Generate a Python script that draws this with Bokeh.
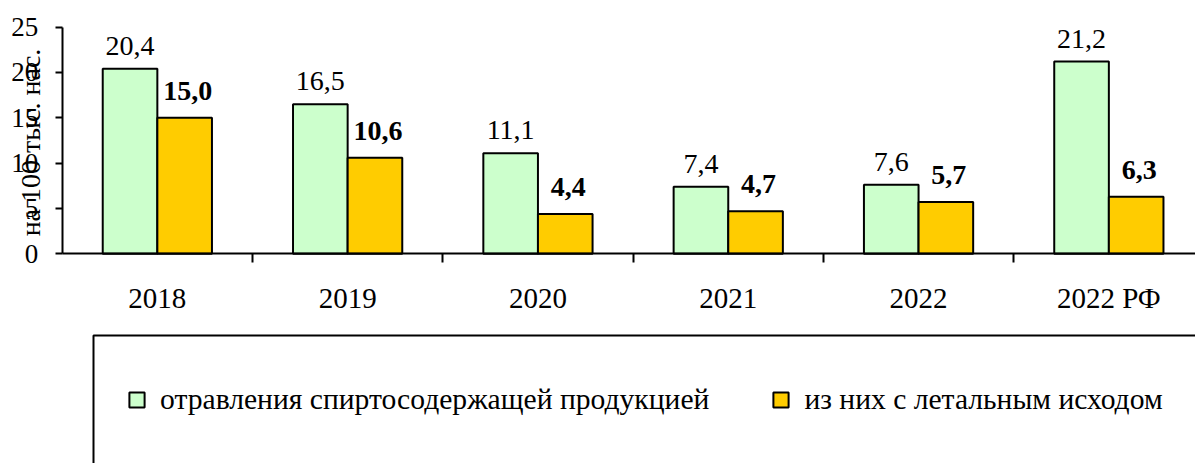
import math
from bokeh.plotting import figure
from bokeh.models import (Range1d, FixedTicker, Legend, LegendItem, Label,
                          ColumnDataSource, BoxAnnotation)
from bokeh.core.properties import value
from bokeh.transform import dodge
from bokeh.embed import file_html
from bokeh.resources import INLINE

# ---- data ----
categories = ["2018", "2019", "2020", "2021", "2022", "2022 РФ"]
poisonings = [20.4, 16.5, 11.1, 7.4, 7.6, 21.2]   # отравления спиртосодержащей продукцией
fatal = [15.0, 10.6, 4.4, 4.7, 5.7, 6.3]          # из них с летальным исходом
y_ticks = [0, 5, 10, 15, 20, 25]
series_names = ["отравления спиртосодержащей продукцией", "из них с летальным исходом"]
y_title = "на 100 тыс. нас."

FONT = "Liberation Serif"
GREEN = "#CCFFCC"
GOLD = "#FFCC00"

def fmt(v):
    return f"{v:.1f}".replace(".", ",")

centers = [i + 0.5 for i in range(len(categories))]
src = ColumnDataSource(dict(
    x=centers,
    g=poisonings,
    o=fatal,
    gl=[fmt(v) for v in poisonings],
    ol=[fmt(v) for v in fatal],
))

W, H = 1195, 463
# the frame fills the whole canvas; axes are drawn at data 0 inside it
X0, XEND = -0.3242, 5.9553
Y0, YEND = -23.125, 27.93

p = figure(width=W, height=H, output_backend="svg", toolbar_location=None,
           x_range=Range1d(X0, XEND), y_range=Range1d(Y0, YEND),
           min_border=0, min_border_left=0, min_border_right=0,
           min_border_top=0, min_border_bottom=0)
p.outline_line_color = None
p.xgrid.visible = False
p.ygrid.visible = False
p.background_fill_color = "white"
p.border_fill_color = "white"

BW = 0.287
r1 = p.vbar(x=dodge("x", -BW / 2), top="g", width=BW, source=src,
            fill_color=GREEN, line_color="black", line_width=2)
r2 = p.vbar(x=dodge("x", BW / 2), top="o", width=BW, source=src,
            fill_color=GOLD, line_color="black", line_width=2)

p.text(x=dodge("x", -BW / 2), y="g", text="gl", source=src,
       text_align="center", text_baseline="alphabetic", y_offset=-23,
       text_font=value(FONT), text_font_size="28px", text_color="black")
p.text(x=dodge("x", BW / 2), y="o", text="ol", source=src,
       text_align="center", text_baseline="alphabetic", y_offset=-27, x_offset=3,
       text_font=value(FONT), text_font_size="28px", text_font_style="bold",
       text_color="black")

# x axis: category labels at centres, tick marks between categories
xa = p.xaxis[0]
xa.fixed_location = 0
xa.bounds = (0, XEND)
xa.ticker = FixedTicker(ticks=centers, minor_ticks=list(range(1, len(categories))))
xa.major_label_overrides = {c: lab for c, lab in zip(centers, categories)}
xa.major_tick_line_color = None
xa.major_tick_out = 0
xa.major_tick_in = 0
xa.minor_tick_line_color = "black"
xa.minor_tick_line_width = 2
xa.minor_tick_out = 9
xa.minor_tick_in = 0
xa.axis_line_color = "black"
xa.axis_line_width = 2
xa.major_label_text_font = FONT
xa.major_label_text_font_size = "29px"
xa.major_label_text_color = "black"
xa.major_label_standoff = 19

ya = p.yaxis[0]
ya.fixed_location = 0
ya.bounds = (0, 25)
ya.ticker = FixedTicker(ticks=y_ticks, minor_ticks=[])
ya.minor_tick_line_color = None
ya.major_tick_out = 7
ya.major_tick_in = 0
ya.major_tick_line_color = "black"
ya.major_tick_line_width = 2
ya.axis_line_color = "black"
ya.axis_line_width = 2
ya.major_label_text_font = FONT
ya.major_label_text_font_size = "27px"
ya.major_label_text_color = "black"
ya.major_label_standoff = 17

p.add_layout(Label(x=30, y=H - 142, x_units="screen", y_units="screen", text=y_title,
                   angle=math.pi / 2, text_align="center", text_baseline="middle",
                   text_font=FONT, text_font_size="28px", text_color="black"))

# legend frame (open to the right and bottom, as in the reference)
p.add_layout(BoxAnnotation(left=93, right=W + 50, top=H - 335, bottom=-50,
                           left_units="screen", right_units="screen",
                           top_units="screen", bottom_units="screen",
                           fill_alpha=0, fill_color=None,
                           line_color="black", line_width=2, line_alpha=1))

legend = Legend(items=[LegendItem(label=series_names[0], renderers=[r1]),
                       LegendItem(label=series_names[1], renderers=[r2])],
                location=(127, 47), orientation="horizontal",
                border_line_color=None, background_fill_alpha=0,
                glyph_width=19, glyph_height=19, label_standoff=14, spacing=62,
                label_text_font=FONT, label_text_font_size="29.6px",
                label_text_color="black", margin=0, padding=0)
p.add_layout(legend, "center")

open("out.html", "w").write(file_html(p, INLINE))
